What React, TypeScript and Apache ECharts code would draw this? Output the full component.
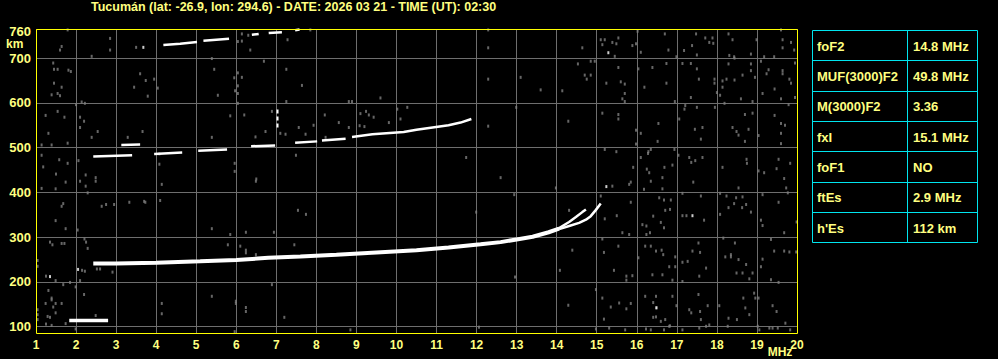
import React, { useEffect, useRef } from "react";
import * as echarts from "echarts";

const titleText = "Tucumán (lat: -26.9, lon: 294.6) - DATE: 2026 03 21 - TIME (UT): 02:30";
const heightLabels = [100, 200, 300, 400, 500, 600, 700, 760];
const heightGrid = [100, 200, 300, 400, 500, 600, 700];
const freqMin = 1;
const freqMax = 20;
const heightMin = 86;
const heightMax = 765;

const tableParams = ["foF2", "MUF(3000)F2", "M(3000)F2", "fxI", "foF1", "ftEs", "h'Es"];
const tableValues = ["14.8 MHz", "49.8 MHz", "3.36", "15.1 MHz", "NO", "2.9 MHz", "112 km"];

// Sporadic E trace
const esTrace = [[1.83, 114], [2.8, 114]];

// F-layer ordinary trace (main part)
const fTraceMain = [
  [2.43, 241], [3, 241], [4, 243], [5.1, 246], [6, 249], [6.8, 254], [7.6, 257],
  [8.5, 261], [9.5, 266], [10.5, 271], [11.3, 277], [12.1, 284], [12.6, 289],
  [13.0, 295], [13.4, 301], [13.8, 311], [14.06, 319],
];
// F-layer cusp branches
const fTraceO = [[14.0, 317], [14.31, 334], [14.48, 345], [14.64, 356], [14.73, 362]];
const fTraceX = [[14.06, 318], [14.31, 325], [14.56, 332], [14.73, 339], [14.85, 347], [14.98, 361], [15.1, 375]];

// Second hop F trace (segments)
const f2Segments = [
  [[2.43, 480], [3.4, 483]],
  [[3.13, 506], [3.6, 507]],
  [[3.95, 486], [4.65, 489]],
  [[5.05, 493], [5.77, 496]],
  [[6.37, 503], [6.97, 505]],
  [[7.47, 511], [8.02, 514]],
  [[8.14, 516], [8.73, 520]],
  [[8.89, 524], [9.4, 530], [10.18, 535], [10.5, 540], [10.9, 545], [11.3, 550], [11.6, 556], [11.87, 564]],
];

// Third hop F trace (segments)
const f3Segments = [
  [[4.18, 729], [4.6, 732], [5.02, 736]],
  [[5.18, 739], [5.82, 743]],
  [[6.39, 752], [6.56, 754]],
  [[6.81, 756], [7.14, 758]],
  [[7.47, 762], [7.58, 764]],
];

// vertical streak near 7 MHz
const streak = [[7.03, 545], [7.03, 590]];

const whiteDots = [
  [1.35, 212], [2.05, 228], [3.68, 724], [15.29, 712], [15.24, 413], [17.39, 348], [16.49, 142],
];

const noiseDots = [
  [1.79, 763], [1.64, 726], [1.6, 718], [2.85, 744], [2.85, 718], [2.39, 704], [3.5, 724], [1.43, 689],
  [1.45, 675], [1.54, 675], [1.81, 673], [1.87, 670], [1.45, 644], [1.64, 635], [1.39, 618], [1.54, 621],
  [1.6, 616], [2.14, 602], [2.22, 599], [2.0, 596], [3.6, 665], [3.74, 650], [3.95, 653], [3.45, 635],
  [4.04, 633], [3.79, 615], [5.54, 617], [5.39, 699], [5.45, 675], [5.95, 656], [6.04, 667], [6.14, 657],
  [6.04, 638], [5.97, 627], [6.04, 621], [6.04, 599], [6.69, 693], [7.25, 675], [7.64, 639], [7.25, 603],
  [6.04, 737], [6.14, 738], [6.35, 718], [7.28, 741], [7.85, 763], [8.81, 603], [8.89, 603], [9.6, 611],
  [10.27, 590], [10.02, 586], [6.14, 754], [6.3, 751],
  [1.24, 572], [1.54, 581], [1.71, 568], [2.1, 568], [2.2, 559], [2.1, 545], [1.31, 532], [1.14, 506],
  [1.39, 506], [1.79, 510], [2.39, 523], [2.54, 536], [1.14, 483], [1.58, 473], [1.79, 465], [1.18, 457],
  [1.5, 441], [2.06, 471], [2.24, 439], [2.49, 433], [3.29, 523], [3.66, 536], [5.85, 571], [6.2, 573],
  [5.39, 523], [4.08, 463], [4.08, 486], [5.96, 465], [5.96, 447], [6.5, 430], [7.49, 483], [6.89, 581],
  [6.73, 536], [6.48, 524], [7.1, 532], [7.56, 545], [7.73, 530], [7.23, 530], [7.93, 550], [8.21, 573],
  [8.56, 556], [8.81, 545], [9.1, 576], [9.24, 581], [9.31, 573], [9.43, 568], [9.81, 556], [10.1, 564],
  [9.08, 549], [9.2, 547], [8.23, 523],
  [12.29, 763], [12.29, 723], [12.29, 653], [13.1, 657], [13.6, 629], [14.14, 627], [14.64, 723],
  [15.1, 741], [15.2, 741], [15.14, 730], [15.39, 735], [15.49, 732], [15.54, 745], [15.89, 728],
  [15.98, 732], [15.45, 704], [16.02, 760], [16.1, 713], [16.7, 754], [16.79, 718], [17.18, 717],
  [16.99, 703], [17.48, 754], [17.38, 728], [17.5, 707], [17.71, 745], [17.81, 735], [17.91, 733],
  [17.89, 745], [18.29, 754], [18.39, 741], [18.31, 706], [18.43, 703], [18.85, 709], [18.99, 741],
  [19.18, 703], [19.43, 703], [19.6, 763], [19.64, 741], [19.85, 735], [19.64, 723], [19.93, 718],
  [14.53, 687], [14.85, 693], [14.95, 693], [14.7, 662], [14.85, 662], [14.75, 653], [15.24, 644],
  [15.54, 679], [15.6, 647], [15.7, 642], [15.7, 621], [15.64, 609], [15.7, 603], [16.04, 676],
  [16.39, 679], [16.19, 635], [16.74, 688], [16.74, 644], [17.14, 688], [17.35, 688], [17.5, 676],
  [17.55, 653], [17.35, 612], [16.95, 603], [17.94, 653], [17.94, 644], [18.14, 649], [18.24, 653],
  [18.44, 651], [18.14, 635], [18.08, 617], [18.0, 623], [18.29, 687], [18.44, 700], [18.6, 609],
  [18.85, 687], [18.85, 672], [18.64, 662], [18.95, 657], [19.14, 621], [18.89, 603], [19.1, 693],
  [19.29, 674], [19.44, 631], [19.64, 672], [19.81, 653], [19.85, 644], [19.6, 609], [19.95, 612],
  [19.95, 689], [19.64, 665], [19.24, 665],
  [12.99, 590], [12.29, 548], [14.29, 559], [15.14, 577], [15.54, 574], [15.54, 564], [15.98, 539],
  [16.1, 532], [15.98, 508], [16.54, 554], [16.52, 514], [17.06, 564], [17.21, 594], [17.19, 586],
  [17.5, 590], [17.95, 590], [17.45, 541], [17.64, 545], [17.6, 519], [18.19, 599], [18.39, 545],
  [18.49, 536], [18.54, 528], [18.7, 574], [18.89, 577], [18.79, 541], [18.7, 514], [19.04, 527],
  [19.44, 572], [19.6, 554], [19.7, 550], [19.79, 596], [19.6, 532], [19.6, 509], [11.74, 478],
  [12.6, 433], [15.2, 496], [15.49, 491], [15.91, 456], [16.1, 478], [16.29, 491], [16.35, 496],
  [16.28, 487], [16.94, 496], [17.04, 483], [16.69, 456], [16.89, 461], [16.25, 452], [16.31, 444],
  [16.64, 433], [17.31, 478], [17.36, 467], [17.46, 471], [17.64, 478], [18.14, 456], [18.74, 474],
  [18.75, 465], [19.04, 448], [19.18, 444], [19.49, 453], [19.54, 474], [19.83, 465], [19.68, 431],
  [1.74, 423], [2.1, 425], [2.24, 414], [2.49, 425], [1.49, 408], [1.14, 409], [2.29, 399], [4.14, 418],
  [1.68, 375], [1.64, 369], [2.64, 369], [2.75, 373], [2.95, 373], [3.33, 378], [3.73, 378], [3.7, 380],
  [4.1, 382], [1.49, 337], [1.74, 319], [2.04, 316], [2.21, 296], [2.25, 289], [2.29, 275], [1.35, 289],
  [1.41, 283], [1.64, 286], [1.71, 286], [1.04, 248], [1.04, 235], [2.52, 229], [2.6, 229], [2.91, 222],
  [2.15, 226], [2.22, 224], [1.25, 213], [1.49, 203], [1.68, 194], [1.85, 199], [2.1, 203], [1.31, 181],
  [1.39, 164], [1.39, 160], [1.24, 152], [1.64, 152], [1.49, 152], [1.99, 189], [2.2, 172], [1.43, 144],
  [1.49, 131], [1.29, 123], [1.35, 121], [1.04, 138], [1.04, 127], [1.04, 116], [1.25, 106], [1.39, 103],
  [2.49, 125], [1.74, 107], [1.99, 95], [5.39, 319], [5.85, 306], [6.24, 311], [6.94, 311], [5.79, 283],
  [6.1, 280], [6.24, 271], [6.24, 265], [6.49, 261], [7.45, 283], [7.54, 360], [7.74, 351], [4.14, 152],
  [4.14, 129], [5.39, 168], [5.99, 157], [5.99, 152], [6.24, 143], [6.24, 134], [6.89, 194], [7.2, 121],
  [8.85, 93], [5.96, 89], [6.49, 425],
  [12.94, 395], [11.99, 356], [12.96, 211], [12.06, 99], [13.98, 410], [14.31, 360], [15.1, 392],
  [15.39, 414], [15.81, 418], [15.85, 423], [16.35, 425], [16.18, 407], [16.64, 408], [17.14, 398],
  [17.41, 423], [17.6, 392], [18.08, 398], [18.24, 392], [18.48, 388], [18.64, 390], [18.54, 410],
  [19.14, 395], [19.54, 378], [19.73, 410], [19.77, 399], [19.99, 334], [16.56, 388], [16.68, 383],
  [16.85, 383], [16.41, 347], [16.6, 333], [16.68, 321], [16.83, 362], [17.14, 348], [17.24, 348],
  [17.68, 338], [18.08, 351], [18.29, 366], [18.43, 375], [18.63, 366], [18.85, 356], [18.73, 373],
  [19.1, 338], [19.14, 326], [19.68, 310], [16.14, 328], [16.24, 325], [16.33, 310], [16.24, 306],
  [15.64, 310], [15.81, 306], [15.2, 341], [15.5, 348], [15.85, 378], [16.71, 360], [15.14, 296],
  [15.54, 280], [15.18, 266], [15.43, 226], [15.74, 213], [15.74, 204], [15.89, 214], [14.39, 271],
  [14.08, 226], [14.29, 148], [16.04, 254], [16.21, 280], [16.35, 280], [16.48, 269], [16.62, 271],
  [16.66, 261], [16.81, 234], [16.96, 234], [16.96, 256], [17.14, 244], [17.27, 246], [17.39, 269],
  [17.54, 287], [17.58, 266], [17.73, 231], [17.56, 213], [16.39, 216], [16.64, 216], [16.89, 204],
  [17.14, 201], [18.16, 298], [18.21, 256], [18.35, 256], [18.35, 261], [18.45, 287], [18.54, 250],
  [18.73, 239], [18.81, 207], [18.49, 220], [18.64, 220], [18.89, 220], [19.1, 234], [19.35, 295],
  [19.43, 269], [19.68, 269], [19.81, 267], [19.98, 267], [19.35, 205], [19.54, 199], [19.14, 251],
  [14.98, 183], [15.14, 164], [15.35, 144], [15.18, 117], [15.56, 153], [15.74, 140], [15.85, 152],
  [16.21, 168], [16.48, 168], [16.41, 154], [16.49, 143], [16.48, 122], [16.41, 121], [16.6, 112],
  [16.71, 116], [16.89, 168], [16.99, 147], [16.83, 102], [17.31, 138], [17.36, 131], [17.54, 172],
  [17.58, 134], [17.77, 147], [17.6, 116], [17.81, 104], [18.06, 147], [18.29, 119], [18.5, 116],
  [18.66, 164], [18.71, 142], [18.81, 127], [18.96, 164], [19.04, 164], [18.93, 175], [19.39, 147],
  [19.49, 134], [19.71, 108], [19.83, 93], [19.52, 97], [15.31, 97], [16.23, 95], [18.27, 101],
  [19.31, 97], [19.39, 97], [19.02, 101], [19.06, 93], [17.56, 97], [17.73, 101], [17.14, 93],
  [16.81, 101], [16.68, 93], [16.35, 93], [15.71, 93], [14.98, 95],
];

const YELLOW_TEXT = "#ffff80";
const BORDER_YELLOW = "#ffff00";
const CYAN = "#00e5ee";
const GRID_GRAY = "#6e6e6e";
const NOISE_GRAY = "#808080";
const FONT = "'Liberation Sans', Arial, sans-serif";

function lineSeries(data: number[][], width: number, extra: any = {}) {
  return {
    type: "line",
    data,
    symbol: "none",
    silent: true,
    lineStyle: { color: "#ffffff", width, cap: "butt", ...extra },
    z: 5,
  };
}

export default function App() {
  const ref = useRef<HTMLDivElement>(null);

  useEffect(() => {
    document.body.style.margin = "0";
    document.body.style.background = "#000";
    if (!ref.current) return;
    const chart = echarts.init(ref.current, undefined, { renderer: "svg" });

    const gridLeft = 36;
    const gridTop = 29;
    const gridW = 761;
    const gridH = 304;

    // table graphics
    const tableLeft = 812;
    const tableTop = 30;
    const tableW = 165;
    const colX = 907;
    const rowH = 30.33;
    const tableGraphics: any[] = [
      {
        type: "rect",
        shape: { x: tableLeft + 0.5, y: tableTop + 0.5, width: tableW, height: Math.round(rowH * tableParams.length) },
        style: { fill: "transparent", stroke: CYAN, lineWidth: 1 },
      },
      {
        type: "line",
        shape: { x1: colX + 0.5, y1: tableTop, x2: colX + 0.5, y2: tableTop + rowH * tableParams.length },
        style: { stroke: CYAN, lineWidth: 1 },
      },
    ];
    tableParams.forEach((p, i) => {
      if (i > 0) {
        const y = Math.round(tableTop + rowH * i) + 0.5;
        tableGraphics.push({
          type: "line",
          shape: { x1: tableLeft, y1: y, x2: tableLeft + tableW, y2: y },
          style: { stroke: CYAN, lineWidth: 1 },
        });
      }
      const cy = tableTop + rowH * i + rowH / 2 + 1;
      tableGraphics.push({
        type: "text",
        x: 817,
        y: cy,
        style: { text: p, fill: YELLOW_TEXT, font: `bold 13px ${FONT}`, verticalAlign: "middle", align: "left" },
      });
      tableGraphics.push({
        type: "text",
        x: 913,
        y: cy,
        style: { text: tableValues[i], fill: YELLOW_TEXT, font: `bold 13px ${FONT}`, verticalAlign: "middle", align: "left" },
      });
    });

    const option: any = {
      animation: false,
      backgroundColor: "#000000",
      grid: {
        left: gridLeft,
        top: gridTop,
        width: gridW,
        height: gridH,
        show: false,
        containLabel: false,
      },
      xAxis: {
        type: "value",
        min: freqMin,
        max: freqMax,
        interval: 1,
        axisLine: { show: false },
        axisTick: { show: false },
        axisLabel: {
          color: YELLOW_TEXT,
          fontFamily: FONT,
          fontWeight: "bold",
          fontSize: 12,
          margin: 6,
          showMinLabel: true,
          showMaxLabel: true,
        },
        splitLine: { show: true, lineStyle: { color: GRID_GRAY, width: 1 } },
      },
      yAxis: {
        type: "value",
        min: heightMin,
        max: heightMax,
        axisLine: { show: false },
        axisTick: { show: false, customValues: heightGrid },
        axisLabel: {
          customValues: heightLabels,
          color: YELLOW_TEXT,
          fontFamily: FONT,
          fontWeight: "bold",
          fontSize: 13,
          margin: 5,
        },
        splitLine: { show: true, lineStyle: { color: GRID_GRAY, width: 1 } },
      },
      graphic: [
        {
          type: "rect",
          z: 100,
          silent: true,
          shape: { x: gridLeft + 0.5, y: gridTop + 0.5, width: gridW, height: gridH },
          style: { fill: "transparent", stroke: BORDER_YELLOW, lineWidth: 1 },
        },
        {
          type: "text",
          x: 91,
          y: 7,
          style: { text: titleText, fill: YELLOW_TEXT, font: `bold 12.5px ${FONT}`, verticalAlign: "middle", align: "left" },
        },
        {
          type: "text",
          x: 6,
          y: 44,
          style: { text: "km", fill: YELLOW_TEXT, font: `bold 12px ${FONT}`, verticalAlign: "middle", align: "left" },
        },
        {
          type: "text",
          x: 780,
          y: 352,
          style: { text: "MHz", fill: YELLOW_TEXT, font: `bold 12px ${FONT}`, verticalAlign: "middle", align: "center" },
        },
        ...tableGraphics,
      ],
      series: [
        {
          type: "scatter",
          data: noiseDots,
          symbol: "rect",
          symbolSize: [2, 3],
          itemStyle: { color: NOISE_GRAY },
          silent: true,
          z: 3,
        },
        lineSeries(esTrace, 3.5),
        lineSeries(fTraceMain, 4),
        lineSeries(fTraceO, 2.5),
        lineSeries(fTraceX, 2.5),
        ...f2Segments.map((s) => lineSeries(s, 2.5)),
        ...f3Segments.map((s) => lineSeries(s, 2.5)),
        lineSeries(streak, 2, { type: [4, 3] }),
        {
          type: "scatter",
          data: whiteDots,
          symbol: "rect",
          symbolSize: [2, 3],
          itemStyle: { color: "#ffffff" },
          silent: true,
          z: 6,
        },
      ],
    };
    chart.setOption(option);
    return () => chart.dispose();
  }, []);

  return <div ref={ref} style={{ width: 998, height: 359, background: "#000" }} />;
}
